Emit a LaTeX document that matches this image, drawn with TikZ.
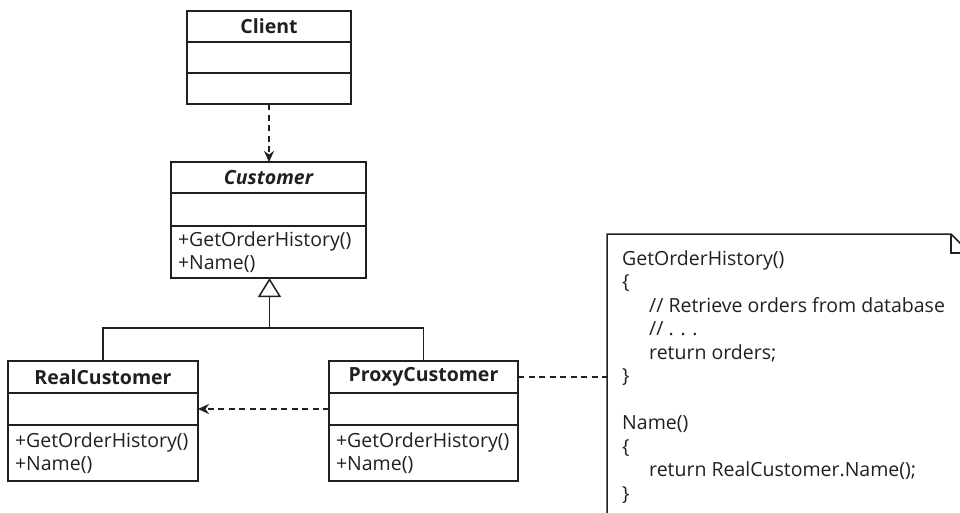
\documentclass[tikz,border=0pt]{standalone}
\usepackage{fontspec}
\setmainfont{Open Sans}
\usetikzlibrary{arrows.meta}
\definecolor{ink}{HTML}{231F20}
\begin{document}
\begin{tikzpicture}[x=1pt,y=-1pt,
  txt/.style={font=\fontsize{19.5}{23}\selectfont, text=ink},
  comp/.style={txt, draw=ink, line width=1.5pt, inner sep=0pt, outer sep=0pt},
  ttl/.style={comp, font=\fontsize{19.5}{23}\selectfont\bfseries},
  meth/.style={comp, align=left, inner xsep=7pt},
  link/.style={draw=ink, line width=1.8pt},
  dep/.style={draw=ink, line width=1.6pt, dash pattern=on 6pt off 4.5pt},
  deptip/.style={-{Stealth[length=11pt,width=10pt,inset=3.5pt]}}
]
\useasboundingbox (0,0) rectangle (960,512);
\clip (0,0) rectangle (960,512);

% Client
\node[ttl, minimum width=164, minimum height=31] (clientT) at (269,26.5) {Client};
\node[comp, minimum width=164, minimum height=31, anchor=north] (clientA) at (clientT.south) {};
\node[comp, minimum width=164, minimum height=31, anchor=north] (clientM) at (clientA.south) {};

% Customer
\node[ttl, minimum width=195, minimum height=31, font=\fontsize{19.5}{23}\selectfont\bfseries\itshape] (custT) at (268.5,177.5) {Customer};
\node[comp, minimum width=195, minimum height=33, anchor=north] (custA) at (custT.south) {};
\node[meth, minimum width=195, text width=181, minimum height=52, anchor=north] (custM) at (custA.south) {+GetOrderHistory()\\+Name()};

% RealCustomer
\node[ttl, minimum width=190, minimum height=32] (realT) at (103,377) {RealCustomer};
\node[comp, minimum width=190, minimum height=32, anchor=north] (realA) at (realT.south) {};
\node[meth, minimum width=190, text width=176, minimum height=56, anchor=north] (realM) at (realA.south) {+GetOrderHistory()\\+Name()};

% ProxyCustomer
\node[ttl, minimum width=189, minimum height=32] (proxyT) at (423.5,377) {ProxyCustomer};
\node[comp, minimum width=189, minimum height=32, anchor=north] (proxyA) at (proxyT.south) {};
\node[meth, minimum width=189, text width=175, minimum height=56, anchor=north] (proxyM) at (proxyA.south) {+GetOrderHistory()\\+Name()};

% Note
\node[minimum width=363, minimum height=286, inner sep=0pt, outer sep=0pt] (note) at (788.5,377) {};
\draw[draw=ink, line width=1.5pt, line join=miter]
  (note.south west) |- ([xshift=-19pt]note.north east)
  -- ([yshift=-19pt]note.north east) -- (note.south east);
\draw[draw=ink, line width=1.5pt]
  ([xshift=-19pt]note.north east) |- ([yshift=-19pt]note.north east);
\node[txt, anchor=north west, inner sep=0pt, align=left,
      font=\fontsize{19.5}{23.5}\selectfont] (notetext) at (622,250)
  {GetOrderHistory()\\
   \{\\
   \hspace*{27pt}// Retrieve orders from database\\
   \hspace*{27pt}// . . .\\
   \hspace*{27pt}return orders;\\
   \}\\
   \mbox{}\\
   Name()\\
   \{\\
   \hspace*{27pt}return RealCustomer.Name();\\
   \}};

% Connectors
\coordinate (j) at (269.5,328);
\draw[link] (realT.north) |- (j) -| (proxyT.north);
\draw[link, -{Triangle[open, length=19pt, width=23pt, line width=1.5pt]}] (j) -- (j |- custM.south);
\draw[dep, deptip] (clientM.south) -- (clientM.south |- custT.north);
\draw[dep, deptip] (proxyA.west) -- (realA.east);
\draw[dep] (proxyT.east) -- (note.west);
\end{tikzpicture}
\end{document}
